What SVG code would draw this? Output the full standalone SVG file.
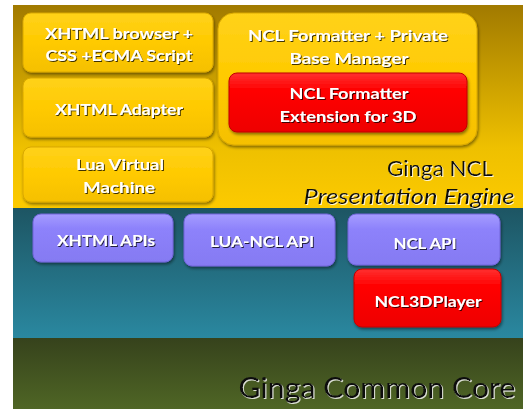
<svg xmlns="http://www.w3.org/2000/svg" width="524" height="409" viewBox="0 0 524 409">
<defs>
<linearGradient id="gY" x1="0" y1="0" x2="0" y2="1"><stop offset="0" stop-color="#a17a00"/><stop offset="0.7" stop-color="#eec000"/><stop offset="1" stop-color="#fcca00"/></linearGradient>
<linearGradient id="gT" x1="0" y1="0" x2="0" y2="1"><stop offset="0" stop-color="#1d5563"/><stop offset="1" stop-color="#2a88a0"/></linearGradient>
<linearGradient id="gO" x1="0" y1="0" x2="0" y2="1"><stop offset="0" stop-color="#36421c"/><stop offset="1" stop-color="#4f6625"/></linearGradient>
<linearGradient id="bY" x1="0" y1="0" x2="0" y2="1"><stop offset="0" stop-color="#ffd21a"/><stop offset="0.5" stop-color="#ffca00"/><stop offset="1" stop-color="#f5c000"/></linearGradient>
<linearGradient id="bP" x1="0" y1="0" x2="0" y2="1"><stop offset="0" stop-color="#a59cff"/><stop offset="0.3" stop-color="#8d82fb"/><stop offset="1" stop-color="#857af2"/></linearGradient>
<linearGradient id="bR" x1="0" y1="0" x2="0" y2="1"><stop offset="0" stop-color="#ff3030"/><stop offset="0.3" stop-color="#ff0000"/><stop offset="1" stop-color="#ee0000"/></linearGradient>
<filter id="sh" x="-10%" y="-10%" width="125%" height="130%"><feDropShadow dx="1" dy="2" stdDeviation="1.5" flood-color="#000" flood-opacity="0.45"/></filter>
<filter id="ts" x="-5%" y="-20%" width="110%" height="150%"><feDropShadow dx="1" dy="1" stdDeviation="0.6" flood-color="#000" flood-opacity="0.75"/></filter>
<filter id="tl" x="-5%" y="-20%" width="110%" height="150%"><feDropShadow dx="1" dy="1" stdDeviation="0.5" flood-color="#fff" flood-opacity="0.8"/></filter>
</defs>
<style>
.box{filter:url(#sh)}
.y{fill:url(#bY);stroke:#d9a800;stroke-width:1}
.p{fill:url(#bP);stroke:#7065d8;stroke-width:1}
.r{fill:url(#bR);stroke:#c00000;stroke-width:1}
.t{font-family:Lato,"Open Sans",sans-serif;font-size:16px;font-weight:bold;fill:#fff;text-anchor:middle;filter:url(#ts)}
.big{font-family:Lato,"Open Sans",sans-serif;fill:#111;filter:url(#tl)}
</style>
<rect x="13" y="5" width="510" height="203" fill="url(#gY)"/>
<rect x="13" y="208" width="510" height="130" fill="url(#gT)"/>
<rect x="13" y="338" width="510" height="71" fill="url(#gO)"/>
<g id="connectors"/>
<g id="xhtml-browser"><rect class="box y" x="23" y="13" width="190" height="59" rx="8"/><text class="t" x="119" y="39" textLength="148" lengthAdjust="spacingAndGlyphs">XHTML browser  +</text><text class="t" x="119" y="61" textLength="147" lengthAdjust="spacingAndGlyphs">CSS +ECMA Script</text></g>
<g id="xhtml-adapter"><rect class="box y" x="23" y="78" width="190" height="59" rx="8"/><text class="t" x="119" y="115" textLength="128" lengthAdjust="spacingAndGlyphs">XHTML Adapter</text></g>
<g id="lua-vm"><rect class="box y" x="23" y="147" width="190" height="55" rx="8"/><text class="t" x="120" y="170" textLength="88" lengthAdjust="spacingAndGlyphs">Lua Virtual</text><text class="t" x="119" y="193" textLength="72" lengthAdjust="spacingAndGlyphs">Machine</text></g>
<g id="ncl-formatter"><rect class="box y" x="218" y="13" width="259" height="132" rx="16"/><text class="t" x="348" y="41" textLength="200" lengthAdjust="spacingAndGlyphs">NCL Formatter + Private</text><text class="t" x="349" y="64" textLength="119" lengthAdjust="spacingAndGlyphs">Base Manager</text></g>
<g id="ncl-ext3d"><rect class="box r" x="229" y="73" width="238" height="59" rx="8"/><text class="t" x="349" y="99" textLength="119" lengthAdjust="spacingAndGlyphs">NCL Formatter</text><text class="t" x="348" y="122" textLength="137" lengthAdjust="spacingAndGlyphs">Extension for 3D</text></g>
<g id="ginga-ncl"><text class="big" x="440" y="176" font-size="21" text-anchor="middle" textLength="106" lengthAdjust="spacingAndGlyphs">Ginga NCL</text><text class="big" x="409" y="204" font-size="21" font-style="italic" text-anchor="middle" textLength="211" lengthAdjust="spacingAndGlyphs">Presentation Engine</text></g>
<g id="xhtml-apis"><rect class="box p" x="33" y="214" width="140" height="48" rx="8"/><text class="t" x="106" y="246" textLength="98" lengthAdjust="spacingAndGlyphs">XHTML APIs</text></g>
<g id="lua-ncl-api"><rect class="box p" x="184" y="214" width="151" height="52" rx="8"/><text class="t" x="262" y="247" textLength="104" lengthAdjust="spacingAndGlyphs">LUA-NCL API</text></g>
<g id="ncl-api"><rect class="box p" x="348" y="214" width="152" height="51" rx="8"/><text class="t" x="425" y="249" textLength="63" lengthAdjust="spacingAndGlyphs">NCL API</text></g>
<g id="ncl3dplayer"><rect class="box r" x="354" y="269" width="147" height="58" rx="8"/><text class="t" x="428" y="307" textLength="107" lengthAdjust="spacingAndGlyphs">NCL3DPlayer</text></g>
<g id="ginga-common-core"><text class="big" x="377" y="398" font-size="29" text-anchor="middle" textLength="277" lengthAdjust="spacingAndGlyphs">Ginga Common Core</text></g>
</svg>
